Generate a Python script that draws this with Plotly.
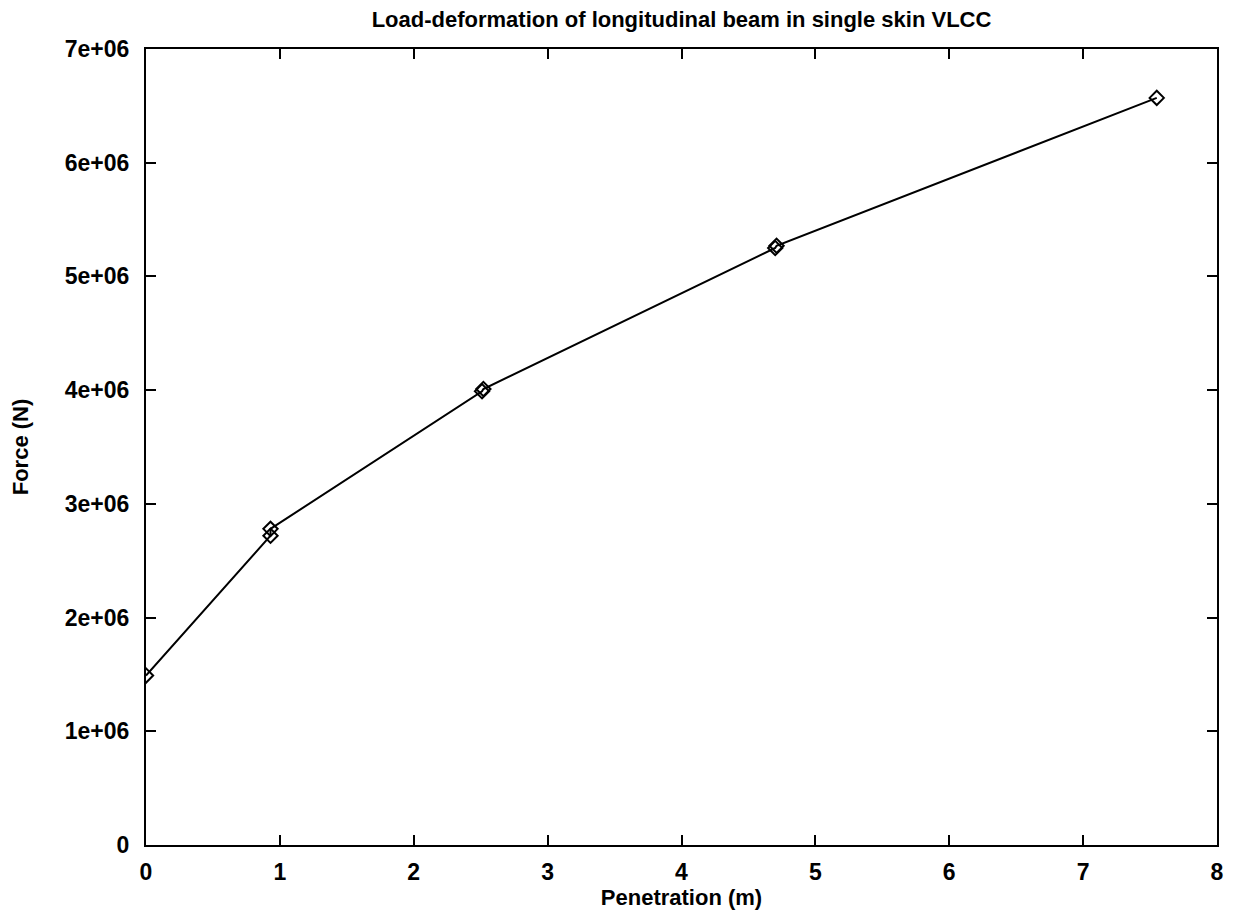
import plotly.graph_objects as go

penetration = [0.0, 0.93, 0.93, 2.51, 2.52, 4.70, 4.71, 7.55]
force = [1.49e6, 2.72e6, 2.78e6, 3.99e6, 4.01e6, 5.25e6, 5.27e6, 6.57e6]

x_ticks = [0, 1, 2, 3, 4, 5, 6, 7, 8]
y_ticks = [0, 1e6, 2e6, 3e6, 4e6, 5e6, 6e6, 7e6]
y_tick_labels = ["0", "1e+06", "2e+06", "3e+06", "4e+06", "5e+06", "6e+06", "7e+06"]

fig = go.Figure()
fig.add_trace(go.Scatter(
    x=penetration, y=force, mode="lines+markers",
    line=dict(color="black", width=2),
    marker=dict(symbol="diamond-open", size=11, color="black", line=dict(width=2)),
    showlegend=False,
))

font = dict(family="Liberation Sans, Arial, Helvetica, sans-serif", size=22, color="black", weight="bold")
tick_font = dict(family="Liberation Sans, Arial, Helvetica, sans-serif", size=23, color="black", weight="bold")
fig.update_layout(
    width=1233, height=911,
    margin=dict(l=138, r=24, t=41, b=74),
    paper_bgcolor="white", plot_bgcolor="white",
    font=font,
    title=dict(text="Load-deformation of longitudinal beam in single skin VLCC",
               x=0.5, xref="paper", xanchor="center", y=0.988, yanchor="middle", font=font),
    xaxis=dict(range=[0, 8], tickvals=x_ticks, ticks="inside", ticklen=10, tickwidth=2,
               tickcolor="black", showline=True, linecolor="black", linewidth=2, mirror="ticks",
               showgrid=False, zeroline=False, tickfont=tick_font, ticklabelstandoff=5,
               title=dict(text="Penetration (m)", standoff=2, font=font)),
    yaxis=dict(range=[0, 7e6], tickvals=y_ticks, ticktext=y_tick_labels, ticks="inside",
               ticklen=10, tickwidth=2, tickcolor="black", showline=True, linecolor="black",
               linewidth=2, mirror="ticks", showgrid=False, zeroline=False, tickfont=tick_font,
               ticklabelstandoff=10,
               title=dict(text="Force (N)", standoff=30, font=font)),
)
fig.write_html("out.html")
